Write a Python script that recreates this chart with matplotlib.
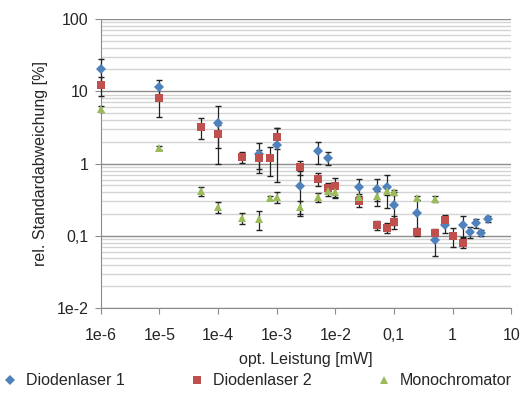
import numpy as np
import matplotlib.pyplot as plt
from matplotlib.ticker import FixedLocator, NullFormatter, LogLocator

# Diodenlaser 1
x_dl1 = [1e-6, 1e-5, 1e-4, 5e-4, 1e-3, 2.5e-3, 5.1e-3, 7.5e-3, 0.025, 0.051,
         0.076, 0.1, 0.25, 0.5, 0.74, 1.5, 2.0, 2.5, 3.0, 4.0]
y_dl1 = [20, 11.5, 3.6, 1.35, 1.8, 0.49, 1.49, 1.19, 0.47, 0.44,
         0.47, 0.27, 0.21, 0.088, 0.14, 0.14, 0.113, 0.15, 0.11, 0.17]
e_dl1 = [8, 3, 2.6, 0.6, 1.25, 0.3, 0.5, 0.25, 0.14, 0.18,
         0.23, 0.13, 0.1, 0.035, 0.03, 0.045, 0.02, 0.02, 0.01, 0.015]

# Diodenlaser 2
x_dl2 = [1e-6, 1e-5, 5.2e-5, 1e-4, 2.6e-4, 5e-4, 7.7e-4, 1e-3, 2.5e-3, 5.1e-3,
         7.5e-3, 1e-2, 0.025, 0.051, 0.076, 0.1, 0.25, 0.5, 0.74, 1.0, 1.5]
y_dl2 = [12.2, 8.1, 3.2, 2.56, 1.23, 1.2, 1.18, 2.33, 0.9, 0.61,
         0.46, 0.49, 0.30, 0.14, 0.13, 0.156, 0.113, 0.11, 0.166, 0.10, 0.08]
e_dl2 = [3.5, 3.7, 1.0, 0.9, 0.2, 0.35, 0.5, 0.75, 0.2, 0.12,
         0.07, 0.15, 0.05, 0.02, 0.02, 0.03, 0.015, 0.012, 0.025, 0.03, 0.012]

# Monochromator
x_mono = [1e-6, 1e-5, 5.2e-5, 1e-4, 2.6e-4, 5e-4, 7.7e-4, 1e-3, 2.5e-3, 5.1e-3,
          7.5e-3, 1e-2, 0.025, 0.051, 0.076, 0.1, 0.25, 0.5]
y_mono = [5.7, 1.64, 0.42, 0.25, 0.177, 0.17, 0.334, 0.34, 0.25, 0.34,
          0.42, 0.40, 0.34, 0.36, 0.42, 0.40, 0.33, 0.32]
e_mono = [0.6, 0.1, 0.06, 0.04, 0.03, 0.05, 0.02, 0.06, 0.05, 0.05,
          0.06, 0.07, 0.04, 0.06, 0.05, 0.03, 0.02, 0.03]

x_ticks = [1e-6, 1e-5, 1e-4, 1e-3, 1e-2, 0.1, 1, 10]
x_labels = ['1e-6', '1e-5', '1e-4', '1e-3', '1e-2', '0,1', '1', '10']
y_ticks = [0.01, 0.1, 1, 10, 100]
y_labels = ['1e-2', '0,1', '1', '10', '100']

plt.rcParams['font.family'] = ['Liberation Sans', 'DejaVu Sans']
plt.rcParams['font.size'] = 11.5
text_col = '#262626'

fig = plt.figure(figsize=(5.2, 3.94), dpi=100)
ax = fig.add_axes([0.194, 0.218, 0.789, 0.734])

series = [
    (x_dl1, y_dl1, e_dl1, 'D', '#4F81BD', 4.8, 'Diodenlaser 1'),
    (x_dl2, y_dl2, e_dl2, 's', '#C0504D', 5.8, 'Diodenlaser 2'),
    (x_mono, y_mono, e_mono, '^', '#9BBB59', 5.4, 'Monochromator'),
]
for xs, ys, es, mk, col, ms, lab in series:
    cont = ax.errorbar(xs, ys, yerr=es, fmt=mk, color=col, ms=ms,
                       ecolor='#222222', elinewidth=0.9, capsize=2.2, capthick=1.0,
                       label=lab, zorder=3)
    cont.lines[0].set_markeredgewidth(0)
    for art in [cont.lines[0], *cont.lines[1], *cont.lines[2]]:
        art.set_clip_on(False)

ax.set_xscale('log')
ax.set_yscale('log')
ax.set_xlim(1e-6, 10)
ax.set_ylim(0.01, 100)

ax.xaxis.set_major_locator(FixedLocator(x_ticks))
ax.set_xticklabels(x_labels, color=text_col)
ax.xaxis.set_minor_locator(FixedLocator([]))
ax.yaxis.set_major_locator(FixedLocator(y_ticks))
ax.set_yticklabels(y_labels, color=text_col)
ax.yaxis.set_minor_locator(LogLocator(base=10, subs=np.arange(2, 10), numticks=20))
ax.yaxis.set_minor_formatter(NullFormatter())

ax.grid(True, which='major', axis='y', color='#8c8c8c', lw=1.0, zorder=0)
ax.grid(True, which='minor', axis='y', color='#d4d4d4', lw=1.0, zorder=0)
ax.tick_params(axis='y', which='minor', length=0)
ax.tick_params(axis='both', which='major', length=4, color='#8c8c8c', pad=5)
ax.tick_params(axis='x', pad=10)

for s in ['top', 'right']:
    ax.spines[s].set_visible(False)
for s in ['left', 'bottom']:
    ax.spines[s].set_color('#8c8c8c')

ax.set_xlabel('opt. Leistung [mW]', color=text_col, labelpad=7)
ax.set_ylabel('rel. Standardabweichung [%]', color=text_col, labelpad=6)

handles = [plt.Line2D([], [], ls='none', marker=mk, color=col, ms=ms, mew=0)
           for _, _, _, mk, col, ms, _ in series]
labels = [s[6] for s in series]
fig.legend(handles, labels, loc='center left', ncol=3, frameon=False,
           bbox_to_anchor=(0.0, 0.033), borderaxespad=0, borderpad=0.1,
           columnspacing=4.05, handletextpad=0.5,
           handlelength=1.0, labelcolor=text_col)

fig.savefig('out.png', dpi=100)
